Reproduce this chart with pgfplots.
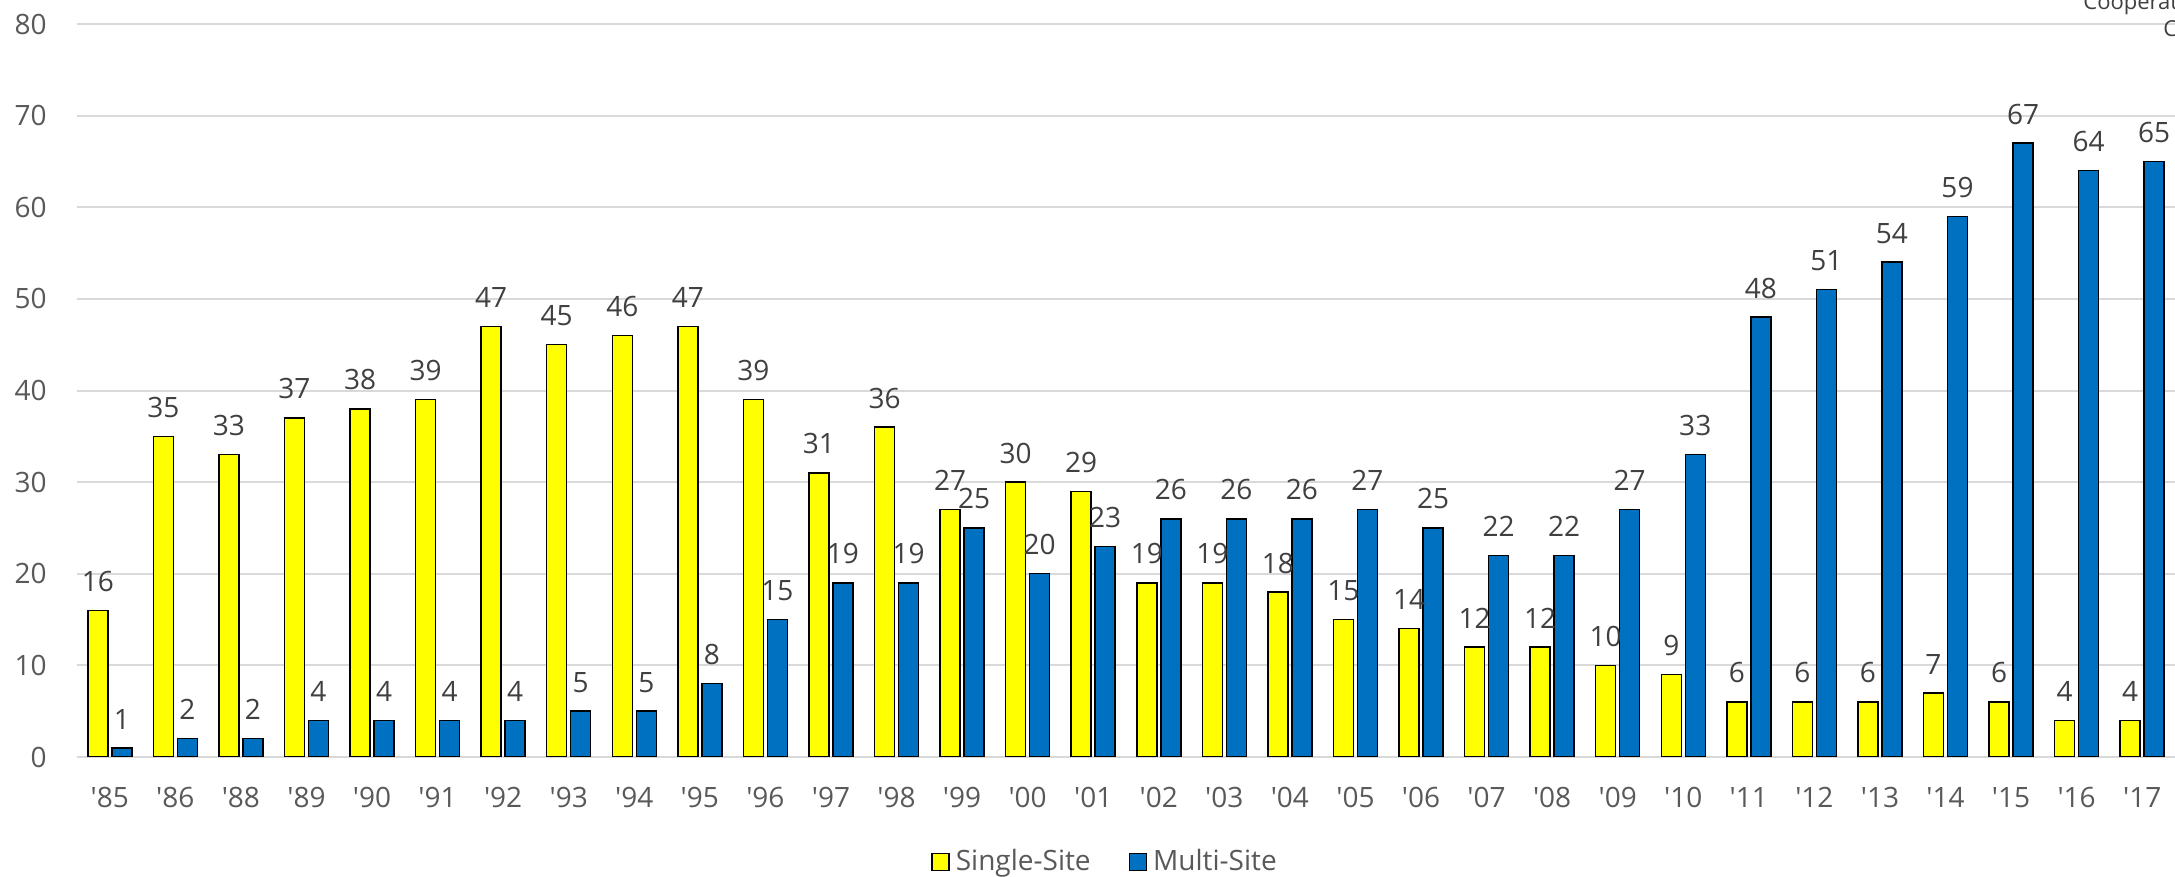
\documentclass[border=0pt]{standalone}
\usepackage{pgfplots}
\pgfplotsset{compat=1.18}
\usepackage{fontspec}
\setmainfont{Open Sans}
\definecolor{tickgray}{HTML}{595959}
\definecolor{labgray}{HTML}{404040}
\definecolor{gridgray}{HTML}{D9D9D9}
\definecolor{barblue}{HTML}{0070C0}
\definecolor{baryellow}{HTML}{FFFF00}
\newcommand{\q}{\textquotesingle}

\begin{document}
\begin{tikzpicture}
\useasboundingbox (-38.5pt,-60pt) rectangle (1049pt,378.5pt);
\begin{axis}[
    scale only axis,
    width=1049pt, height=366.5pt,
    ybar=2pt,
    bar width=10pt,
    xmin=-0.5, xmax=31.5,
    ymin=0, ymax=80,
    ytick={0,10,...,80},
    xtick=data,
    xticklabels={\q85,\q86,\q88,\q89,\q90,\q91,\q92,\q93,\q94,\q95,\q96,\q97,\q98,\q99,\q00,\q01,\q02,\q03,\q04,\q05,\q06,\q07,\q08,\q09,\q10,\q11,\q12,\q13,\q14,\q15,\q16,\q17},
    axis line style={draw=none},
    major tick length=0pt,
    ymajorgrids=true,
    major grid style={gridgray, line width=1pt},
    tick label style={font=\fontsize{14pt}{16pt}\selectfont, text=tickgray},
    /pgf/number format/assume math mode=true,
    xticklabel style={anchor=north, inner sep=0pt, yshift=-15pt},
    yticklabel style={anchor=east, inner sep=0pt, xshift=-15pt},
    nodes near coords,
    every node near coord/.append style={font=\fontsize{14pt}{16pt}\selectfont, text=labgray, anchor=south, inner sep=0pt, yshift=9pt},
    legend columns=2,
    legend style={draw=none, fill=none, at={(0.4905,-0.143)}, anchor=center,
        font=\fontsize{14pt}{16pt}\selectfont, text=tickgray,
        /tikz/every even column/.append style={column sep=17pt},
        /tikz/every odd column/.append style={column sep=1pt}},
    legend image code/.code={\draw[#1, line width=0.75pt] (0pt,-4.25pt) rectangle (8.5pt,4.25pt);},
]
\addplot[draw=black, line width=0.75pt, fill=baryellow] coordinates {
(0,16)(1,35)(2,33)(3,37)(4,38)(5,39)(6,47)(7,45)(8,46)(9,47)(10,39)(11,31)(12,36)(13,27)(14,30)(15,29)(16,19)(17,19)(18,18)(19,15)(20,14)(21,12)(22,12)(23,10)(24,9)(25,6)(26,6)(27,6)(28,7)(29,6)(30,4)(31,4)
};
\addlegendentry{Single-Site}
\addplot[draw=black, line width=0.75pt, fill=barblue] coordinates {
(0,1)(1,2)(2,2)(3,4)(4,4)(5,4)(6,4)(7,5)(8,5)(9,8)(10,15)(11,19)(12,19)(13,25)(14,20)(15,23)(16,26)(17,26)(18,26)(19,27)(20,25)(21,22)(22,22)(23,27)(24,33)(25,48)(26,51)(27,54)(28,59)(29,67)(30,64)(31,65)
};
\addlegendentry{Multi-Site}
\end{axis}
\node[anchor=base west, inner sep=0pt, text=labgray, font=\fontsize{11pt}{13pt}\selectfont] at (1003pt,373.5pt) {Cooperative};
\node[anchor=base west, inner sep=0pt, text=labgray, font=\fontsize{11pt}{13pt}\selectfont] at (1043pt,360pt) {Credit};
\end{tikzpicture}
\end{document}
